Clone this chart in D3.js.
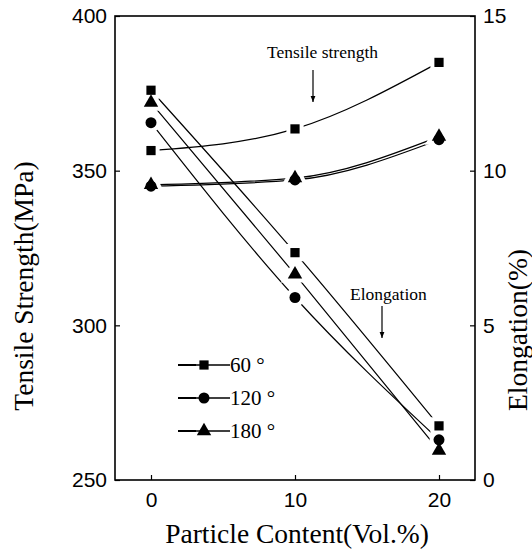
<!DOCTYPE html>
<html>
<head>
<meta charset="utf-8">
<script src="https://cdn.jsdelivr.net/npm/d3@7"></script>
<style>
  body { margin: 0; background: #fff; }
  .tick text { font-family: "Liberation Sans", Arial, sans-serif; }
</style>
</head>
<body>
<div id="chart"></div>
<script>
// particle content (vol.%)
const content = [0, 10, 20]

// tensile strength (MPa), left axis
const tensile60 = [356.5, 363.5, 385]
const tensile120 = [345, 347, 360]
const tensile180 = [345.4, 347.6, 361]

// elongation (%), right axis
const elong60 = [12.6, 7.35, 1.75]
const elong120 = [11.55, 5.9, 1.3]
const elong180 = [12.2, 6.65, 0.95]

const xTicks = [0, 10, 20]
const leftTicks = [250, 300, 350, 400]
const rightTicks = [0, 5, 10, 15]
const legendLabels = ["60 °", "120 °", "180 °"]

const width = 532, height = 552
const margin = {top: 16, right: 57, bottom: 72, left: 115}

let svg = d3.select("#chart")
    .append("svg")
        .attr("width", width)
        .attr("height", height)

let x = d3.scaleLinear().domain([-2.5, 22.5]).range([margin.left, width - margin.right])
let yL = d3.scaleLinear().domain([250, 400]).range([height - margin.bottom, margin.top])
let yR = d3.scaleLinear().domain([0, 15]).range([height - margin.bottom, margin.top])

// frame
svg.append("rect")
    .attr("x", margin.left)
    .attr("y", margin.top)
    .attr("width", width - margin.left - margin.right)
    .attr("height", height - margin.top - margin.bottom)
    .attr("fill", "none")
    .attr("stroke", "#000")
    .attr("stroke-width", 1.6)

// axes, ticks pointing inward
function styleAxis(g) {
    g.select(".domain").remove()
    g.selectAll(".tick line").attr("stroke", "#000").attr("stroke-width", 1.2)
    g.selectAll(".tick text").attr("font-size", 21).attr("fill", "#000")
}

svg.append("g")
    .attr("transform", `translate(0,${height - margin.bottom})`)
    .call(d3.axisBottom(x).tickValues(xTicks).tickSizeInner(-5).tickPadding(12))
    .call(styleAxis)

svg.append("g")
    .attr("transform", `translate(${margin.left},0)`)
    .call(d3.axisLeft(yL).tickValues(leftTicks).tickSizeInner(-5).tickPadding(8))
    .call(styleAxis)

svg.append("g")
    .attr("transform", `translate(${width - margin.right},0)`)
    .call(d3.axisRight(yR).tickValues(rightTicks).tickSizeInner(-5).tickPadding(8))
    .call(styleAxis)

// axis titles
const serif = "'Liberation Serif', 'Times New Roman', serif"
svg.append("text")
    .attr("x", 297)
    .attr("y", 543)
    .attr("text-anchor", "middle")
    .attr("font-family", serif)
    .attr("font-size", 27.5)
    .text("Particle Content(Vol.%)")

svg.append("text")
    .attr("transform", `translate(33,286) rotate(-90)`)
    .attr("text-anchor", "middle")
    .attr("font-family", serif)
    .attr("font-size", 27.5)
    .text("Tensile Strength(MPa)")

svg.append("text")
    .attr("transform", `translate(527,330) rotate(-90)`)
    .attr("text-anchor", "middle")
    .attr("font-family", serif)
    .attr("font-size", 27.5)
    .text("Elongation(%)")

// series
let series = [
    {vals: tensile60, y: yL, shape: d3.symbolSquare},
    {vals: tensile120, y: yL, shape: d3.symbolCircle},
    {vals: tensile180, y: yL, shape: d3.symbolTriangle},
    {vals: elong60, y: yR, shape: d3.symbolSquare},
    {vals: elong120, y: yR, shape: d3.symbolCircle},
    {vals: elong180, y: yR, shape: d3.symbolTriangle}
]

let line = s => d3.line()
    .x((d, i) => x(content[i]))
    .y(d => s.y(d))
    .curve(d3.curveMonotoneX)

svg.selectAll("path.series")
    .data(series)
    .enter().append("path")
        .attr("class", "series")
        .attr("d", s => line(s)(s.vals))
        .attr("fill", "none")
        .attr("stroke", "#000")
        .attr("stroke-width", 1.2)

function sym(shape) {
    let size = shape === d3.symbolSquare ? 85
             : shape === d3.symbolCircle ? 95 : 90
    return d3.symbol().type(shape).size(size)()
}

// white halos first so the lines stop short of the markers, then the markers
function drawMarkers(halo) {
    series.forEach(s => {
        svg.append("g").selectAll("path")
            .data(s.vals)
            .enter().append("path")
                .attr("d", sym(s.shape))
                .attr("transform", (d, i) => `translate(${x(content[i])},${s.y(d)})`)
                .attr("fill", halo ? "#fff" : "#000")
                .attr("stroke", halo ? "#fff" : "none")
                .attr("stroke-width", halo ? 8 : 0)
    })
}
drawMarkers(true)
drawMarkers(false)

// annotations
svg.append("text")
    .attr("x", 267).attr("y", 58)
    .attr("font-family", serif).attr("font-size", 17.5)
    .text("Tensile strength")
svg.append("text")
    .attr("x", 350).attr("y", 300)
    .attr("font-family", serif).attr("font-size", 17.5)
    .text("Elongation")

svg.append("defs").append("marker")
    .attr("id", "arrow")
    .attr("viewBox", "0 0 10 10")
    .attr("refX", 10).attr("refY", 5)
    .attr("markerWidth", 5).attr("markerHeight", 6)
    .attr("orient", "auto")
    .append("path").attr("d", "M0,1 L10,5 L0,9 Z").attr("fill", "#000")

svg.append("line")
    .attr("x1", 313).attr("y1", 70).attr("x2", 313).attr("y2", 102)
    .attr("stroke", "#000").attr("stroke-width", 1.2)
    .attr("marker-end", "url(#arrow)")
svg.append("line")
    .attr("x1", 382).attr("y1", 306).attr("x2", 382).attr("y2", 338)
    .attr("stroke", "#000").attr("stroke-width", 1.2)
    .attr("marker-end", "url(#arrow)")

// legend
let legend = svg.append("g")
    .selectAll("g")
    .data(legendLabels)
    .enter().append("g")
        .attr("transform", (d, i) => `translate(178,${365 + i * 33})`)

legend.append("line")
    .attr("x1", 0).attr("x2", 18)
    .attr("stroke", "#000").attr("stroke-width", 2)
legend.append("line")
    .attr("x1", 18).attr("x2", 52)
    .attr("stroke", "#000").attr("stroke-width", 1.3)
legend.append("path")
    .attr("d", (d, i) => sym([d3.symbolSquare, d3.symbolCircle, d3.symbolTriangle][i]))
    .attr("transform", "translate(26,0)")
    .attr("fill", "#000")
legend.append("text")
    .attr("x", 52).attr("y", 7)
    .attr("font-family", serif).attr("font-size", 21)
    .text(d => d)
</script>
</body>
</html>
